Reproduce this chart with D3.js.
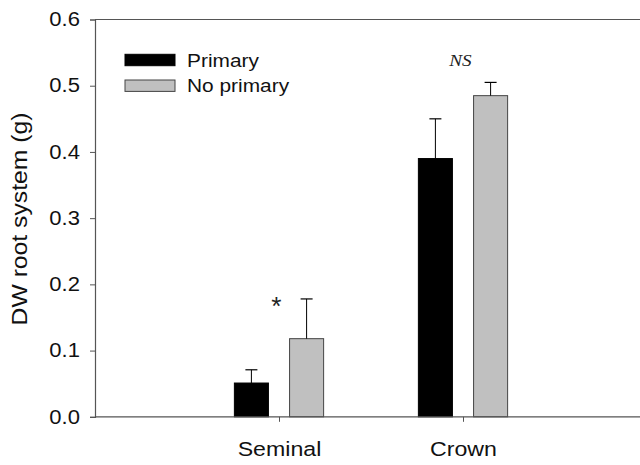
<!DOCTYPE html>
<html><head><meta charset="utf-8">
<script src="https://cdn.jsdelivr.net/npm/d3@7"></script>
<style>html,body{margin:0;padding:0;background:#fff;}svg{display:block;}</style>
</head><body>
<svg id="chart" width="640" height="465"></svg>
<script>
const categories = ["Seminal", "Crown"];
const seriesNames = ["Primary", "No primary"];
const primaryValues = [0.051, 0.390];
const primaryErrors = [0.020, 0.060];
const noPrimaryValues = [0.118, 0.485];
const noPrimaryErrors = [0.060, 0.020];
const yTicks = [0.0, 0.1, 0.2, 0.3, 0.4, 0.5, 0.6];
const annotations = [{cat: 0, text: "*"}, {cat: 1, text: "NS"}];

const SX = 1.13; // text in the reference is wider than Arial
const svg = d3.select("#chart");
const W = 640;
const plotLeft = 95, plotTop = 19.5, plotBottom = 416.8;
const x = d3.scaleLinear().domain([0, 3]).range([plotLeft, 647]);
const y = d3.scaleLinear().domain([0, 0.6]).range([plotBottom, plotTop]);
const axisColor = "#555";
const fontSans = "'Liberation Sans', Arial, sans-serif";

const series = [
  {name: seriesNames[0], values: primaryValues, errors: primaryErrors, fill: "#000", stroke: "#000", off: -0.15},
  {name: seriesNames[1], values: noPrimaryValues, errors: noPrimaryErrors, fill: "#c0c0c0", stroke: "#444", off: 0.15}
];
const barW = x(0.185) - x(0);
const capW = 12;

// frame line
svg.append("line").attr("x1", plotLeft).attr("x2", W).attr("y1", plotTop).attr("y2", plotTop)
  .attr("stroke", axisColor).attr("stroke-width", 1.2);

// bars
series.forEach(s => {
  const g = svg.append("g");
  s.values.forEach((v, i) => {
    const cx = x(i + 1 + s.off);
    g.append("rect").attr("x", cx - barW / 2).attr("y", y(v))
      .attr("width", barW).attr("height", y(0) - y(v))
      .attr("fill", s.fill).attr("stroke", s.stroke).attr("stroke-width", 1);
    const e = v + s.errors[i];
    g.append("line").attr("x1", cx).attr("x2", cx).attr("y1", y(v)).attr("y2", y(e))
      .attr("stroke", "#000").attr("stroke-width", 1);
    g.append("line").attr("x1", cx - capW / 2).attr("x2", cx + capW / 2).attr("y1", y(e)).attr("y2", y(e))
      .attr("stroke", "#000").attr("stroke-width", 1.2);
  });
});

// y axis
const yAxis = d3.axisLeft(y).tickValues(yTicks).tickFormat(d3.format(".1f")).tickSize(5).tickPadding(10);
const ya = svg.append("g").attr("transform", `translate(${plotLeft},0)`).call(yAxis);
ya.select(".domain").attr("stroke", axisColor).attr("stroke-width", 1.2);
ya.selectAll(".tick line").attr("stroke", axisColor);
ya.selectAll(".tick text").each(function () {
  const t = d3.select(this);
  const xx = +t.attr("x");
  t.attr("x", null).attr("transform", `translate(${xx},0) scale(${SX},1)`);
}).attr("fill", "#111").attr("font-family", fontSans).attr("font-size", 19.5);

// x axis
const xAxis = d3.axisBottom(x).tickValues([1, 2]).tickFormat(d => categories[d - 1]).tickSize(5).tickPadding(20);
const xa = svg.append("g").attr("transform", `translate(0,${plotBottom})`).call(xAxis);
xa.select(".domain").remove();
xa.append("line").attr("x1", plotLeft).attr("x2", W).attr("stroke", axisColor).attr("stroke-width", 1.2);
xa.selectAll(".tick line").attr("stroke", axisColor);
xa.selectAll(".tick text").each(function () {
  const t = d3.select(this);
  const yy = +t.attr("y");
  t.attr("y", null).attr("transform", `translate(0,${yy}) scale(${SX},1)`);
}).attr("fill", "#111").attr("font-family", fontSans).attr("font-size", 20.5);

// y label
svg.append("text")
  .attr("transform", `translate(27,219) rotate(-90) scale(1.15,1)`)
  .attr("text-anchor", "middle").attr("font-family", fontSans).attr("font-size", 21.5).attr("fill", "#111")
  .text("DW root system (g)");

// legend
series.forEach((s, i) => {
  const ly = 54.3 + i * 25.7;
  svg.append("rect").attr("x", 125).attr("y", ly).attr("width", 50).attr("height", 11.4)
    .attr("fill", s.fill).attr("stroke", s.stroke).attr("stroke-width", 1);
  svg.append("text").attr("transform", `translate(187,${ly + 12.4}) scale(${SX},1)`)
    .attr("font-family", fontSans).attr("font-size", 18.5).attr("fill", "#111").text(s.name);
});

// annotations
annotations.forEach(a => {
  const i = a.cat;
  const topVal = Math.max(primaryValues[i] + primaryErrors[i], noPrimaryValues[i] + noPrimaryErrors[i]);
  if (a.text === "*") {
    svg.append("text").attr("transform", `translate(${x(i + 1) - 2.6},${y(topVal) + 16}) scale(1.05,1)`)
      .attr("text-anchor", "middle").attr("font-family", fontSans).attr("font-size", 25).attr("fill", "#222").text(a.text);
  } else {
    svg.append("text").attr("transform", `translate(${x(i + 1) - 2.6},${y(topVal) - 16}) scale(${SX},1)`)
      .attr("text-anchor", "middle").attr("font-family", "'Liberation Serif', 'Times New Roman', serif")
      .attr("font-style", "italic").attr("font-size", 17).attr("fill", "#222").text(a.text);
  }
});
</script>
</body></html>
